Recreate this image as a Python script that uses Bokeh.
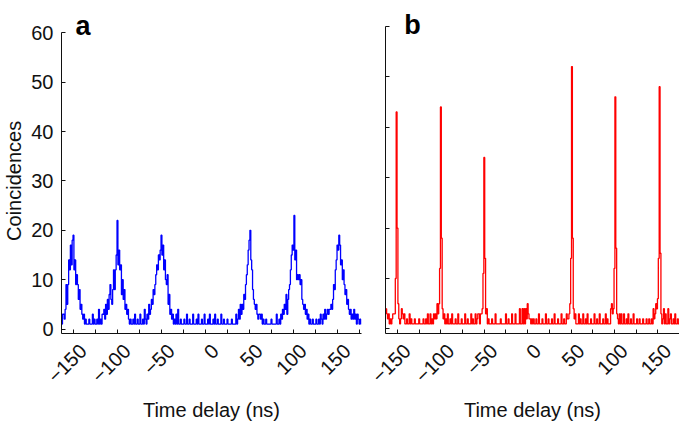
import math
from bokeh.plotting import figure
from bokeh.layouts import row
from bokeh.models import FixedTicker, Range1d, Label, LinearAxis
from bokeh.embed import file_html
from bokeh.resources import INLINE

# time bins (ns)
time_ns = list(range(-163, 178))

# panel a: coincidences (blue)
counts_a = [
    1, 3, 3, 2, 4, 9, 5, 9, 14, 12,
    17, 13, 18, 19, 12, 14, 9, 11, 9, 6,
    8, 4, 5, 3, 2, 3, 1, 2, 1, 1,
    1, 2, 1, 1, 1, 3, 1, 2, 1, 1,
    2, 1, 4, 1, 2, 1, 3, 3, 4, 2,
    5, 3, 6, 4, 7, 9, 6, 5, 8, 12,
    8, 12, 15, 22, 13, 16, 12, 13, 7, 10,
    6, 8, 4, 5, 3, 4, 2, 1, 2, 1,
    1, 2, 1, 3, 1, 1, 2, 1, 1, 3,
    1, 1, 2, 1, 4, 2, 1, 3, 2, 5,
    3, 4, 6, 5, 8, 7, 9, 11, 13, 12,
    15, 14, 16, 19, 15, 17, 12, 14, 10, 9,
    11, 5, 7, 3, 4, 2, 3, 1, 2, 1,
    3, 1, 4, 1, 1, 2, 1, 1, 1, 2,
    1, 1, 3, 1, 1, 2, 1, 1, 1, 3,
    1, 1, 1, 2, 1, 3, 1, 1, 1, 2,
    1, 1, 3, 1, 1, 1, 2, 1, 3, 1,
    1, 1, 2, 1, 3, 1, 1, 2, 1, 1,
    1, 3, 1, 1, 2, 1, 1, 1, 2, 1,
    1, 1, 1, 2, 1, 1, 1, 1, 3, 1,
    2, 4, 2, 5, 3, 5, 4, 7, 6, 9,
    11, 13, 16, 18, 20, 14, 12, 8, 6, 5,
    4, 5, 3, 2, 3, 3, 2, 3, 1, 2,
    1, 1, 2, 1, 1, 1, 1, 1, 2, 1,
    1, 1, 1, 1, 3, 1, 1, 2, 1, 3,
    2, 4, 3, 5, 4, 7, 3, 6, 8, 9,
    12, 15, 17, 16, 23, 14, 16, 10, 11, 10,
    11, 9, 10, 6, 5, 4, 5, 3, 4, 2,
    3, 1, 2, 1, 1, 2, 1, 1, 1, 2,
    1, 1, 2, 1, 3, 2, 1, 3, 2, 4,
    2, 3, 4, 3, 4, 4, 5, 4, 6, 9,
    8, 12, 14, 17, 16, 19, 17, 13, 14, 10,
    12, 9, 7, 8, 5, 6, 4, 3, 4, 2,
    3, 2, 4, 2, 3, 1, 3, 2, 1, 2, 1,
]

# panel b: coincidences (red)
counts_b = [
    4, 3, 2, 3, 1, 2, 1, 2, 3, 3,
    3, 10, 43, 20, 5, 2, 1, 2, 4, 3,
    2, 3, 1, 1, 2, 1, 1, 3, 1, 2,
    1, 1, 1, 2, 1, 1, 1, 1, 2, 1,
    1, 1, 1, 2, 1, 1, 2, 1, 3, 1,
    1, 3, 1, 2, 1, 3, 2, 3, 2, 5,
    3, 5, 12, 44, 18, 4, 2, 3, 1, 2,
    1, 3, 1, 1, 2, 1, 3, 1, 1, 1,
    2, 1, 1, 3, 1, 1, 1, 2, 1, 1,
    1, 3, 1, 1, 2, 1, 1, 1, 3, 1,
    2, 1, 1, 3, 1, 2, 3, 3, 1, 3,
    3, 4, 11, 34, 14, 3, 4, 1, 2, 1,
    1, 1, 2, 1, 1, 1, 3, 1, 1, 1,
    1, 1, 2, 1, 1, 1, 1, 1, 3, 1,
    1, 2, 1, 1, 1, 3, 1, 1, 1, 3,
    1, 1, 1, 1, 4, 1, 1, 4, 1, 4,
    1, 4, 2, 5, 3, 2, 2, 1, 2, 1,
    2, 1, 1, 2, 1, 1, 3, 1, 1, 1,
    2, 1, 1, 1, 3, 1, 1, 2, 1, 1,
    1, 2, 1, 1, 3, 1, 1, 1, 2, 1,
    1, 1, 3, 1, 1, 2, 1, 1, 3, 2,
    2, 3, 5, 14, 52, 18, 4, 2, 3, 1,
    1, 1, 3, 1, 2, 1, 1, 3, 1, 1,
    2, 1, 3, 1, 1, 1, 2, 1, 1, 1,
    3, 1, 1, 2, 1, 1, 3, 1, 1, 1,
    2, 1, 1, 3, 1, 2, 1, 1, 1, 4,
    5, 3, 4, 12, 46, 16, 3, 2, 1, 3,
    1, 3, 1, 1, 3, 1, 1, 2, 1, 3,
    1, 1, 2, 1, 1, 3, 1, 1, 1, 2,
    1, 1, 2, 1, 1, 1, 2, 1, 1, 1,
    2, 1, 1, 2, 1, 1, 2, 1, 4, 2,
    3, 5, 4, 6, 14, 48, 15, 3, 1, 2,
    4, 1, 3, 1, 1, 4, 1, 2, 3, 1,
    1, 2, 1, 3, 1, 1, 2, 1, 1, 3, 2,
]

x_ticks = [-150, -100, -50, 0, 50, 100, 150]
x_minor_ticks = [-125, -75, -25, 25, 75, 125, 175]
x_tick_labels = ["\u2212150", "\u2212100", "\u221250", "0", "50", "100", "150"]
y_ticks = [0, 10, 20, 30, 40, 50, 60]
y_tick_labels = ["0", "10", "20", "30", "40", "50", "60"]

FONT = "Liberation Sans"
INK = "#111111"


def build(x0, x1, y_top, frame_w, border_left, border_right, label_shift,
          show_y_labels):
    p = figure(frame_width=frame_w, frame_height=333,
               min_border_left=border_left, min_border_right=border_right,
               min_border_top=0, min_border_bottom=88,
               x_range=Range1d(x0, x1), y_range=Range1d(-0.9, y_top),
               output_backend="svg", toolbar_location=None)
    p.grid.visible = False
    p.outline_line_color = None
    p.background_fill_color = "white"
    p.border_fill_color = "white"
    p.extra_x_ranges = {"lbl": Range1d(x0 - label_shift, x1 - label_shift)}

    xa = p.xaxis[0]
    ya = p.yaxis[0]
    for ax in (xa, ya):
        ax.axis_line_color = INK
        ax.axis_line_width = 1
        ax.major_tick_line_color = INK
        ax.minor_tick_line_color = INK
        ax.major_tick_in = 4
        ax.major_tick_out = 0
        ax.minor_tick_in = 4
        ax.minor_tick_out = 0
        ax.major_label_text_font = FONT
        ax.major_label_text_font_size = "20px"
        ax.major_label_text_color = INK
    # tick marks along x (labels drawn by a second axis)
    xa.ticker = FixedTicker(ticks=x_ticks, minor_ticks=x_minor_ticks)
    xa.major_label_overrides = {v: "" for v in x_ticks}
    xa.major_label_standoff = 0

    lbl = LinearAxis(x_range_name="lbl",
                     ticker=FixedTicker(ticks=x_ticks, minor_ticks=[]))
    lbl.axis_line_color = None
    lbl.major_tick_line_color = None
    lbl.minor_tick_line_color = None
    lbl.major_tick_in = 0
    lbl.major_tick_out = 0
    lbl.major_label_overrides = dict(zip(x_ticks, x_tick_labels))
    lbl.major_label_orientation = math.pi / 4
    lbl.major_label_text_font = FONT
    lbl.major_label_text_font_size = "20px"
    lbl.major_label_text_color = INK
    lbl.major_label_standoff = 14
    lbl.axis_label = "Time delay (ns)"
    lbl.axis_label_text_font = FONT
    lbl.axis_label_text_font_size = "20px"
    lbl.axis_label_text_font_style = "normal"
    lbl.axis_label_text_color = INK
    lbl.axis_label_standoff = 7
    p.add_layout(lbl, "below")

    ya.ticker = FixedTicker(ticks=y_ticks, minor_ticks=[])
    ya.bounds = (-0.9, 60)
    if show_y_labels:
        ya.major_label_overrides = dict(zip(y_ticks, y_tick_labels))
        ya.major_label_standoff = 8
        # trailing no-break spaces keep the label centred on the 0-60 axis
        ya.axis_label = "Coincidences" + "\u00a0" * 5
        ya.axis_label_text_font = FONT
        ya.axis_label_text_font_size = "20px"
        ya.axis_label_text_font_style = "normal"
        ya.axis_label_text_color = INK
        ya.axis_label_standoff = 3
    else:
        ya.major_label_overrides = {v: "" for v in y_ticks}
        ya.major_label_standoff = 0
    return p


pa = build(-163.6, 177.3, 66.54, 300, 57, 4, 11.0, True)
pa.step(time_ns, counts_a, mode="center", line_color="#0000FF", line_width=1.3)
pa.add_layout(Label(x=-147.7, y=61.47, text="a", text_font=FONT,
                    text_font_size="27px", text_font_style="bold",
                    text_color="#000000", text_baseline="alphabetic"))

pb = build(-163.8, 174.9, 65.09, 294, 20, 0, 11.2, False)
pb.step(time_ns, counts_b, mode="center", line_color="#FF0000", line_width=1.3)
pb.add_layout(Label(x=-142.3, y=60.14, text="b", text_font=FONT,
                    text_font_size="27px", text_font_style="bold",
                    text_color="#000000", text_baseline="alphabetic"))

layout = row(pa, pb, spacing=0)
open("out.html", "w").write(file_html(layout, INLINE))
